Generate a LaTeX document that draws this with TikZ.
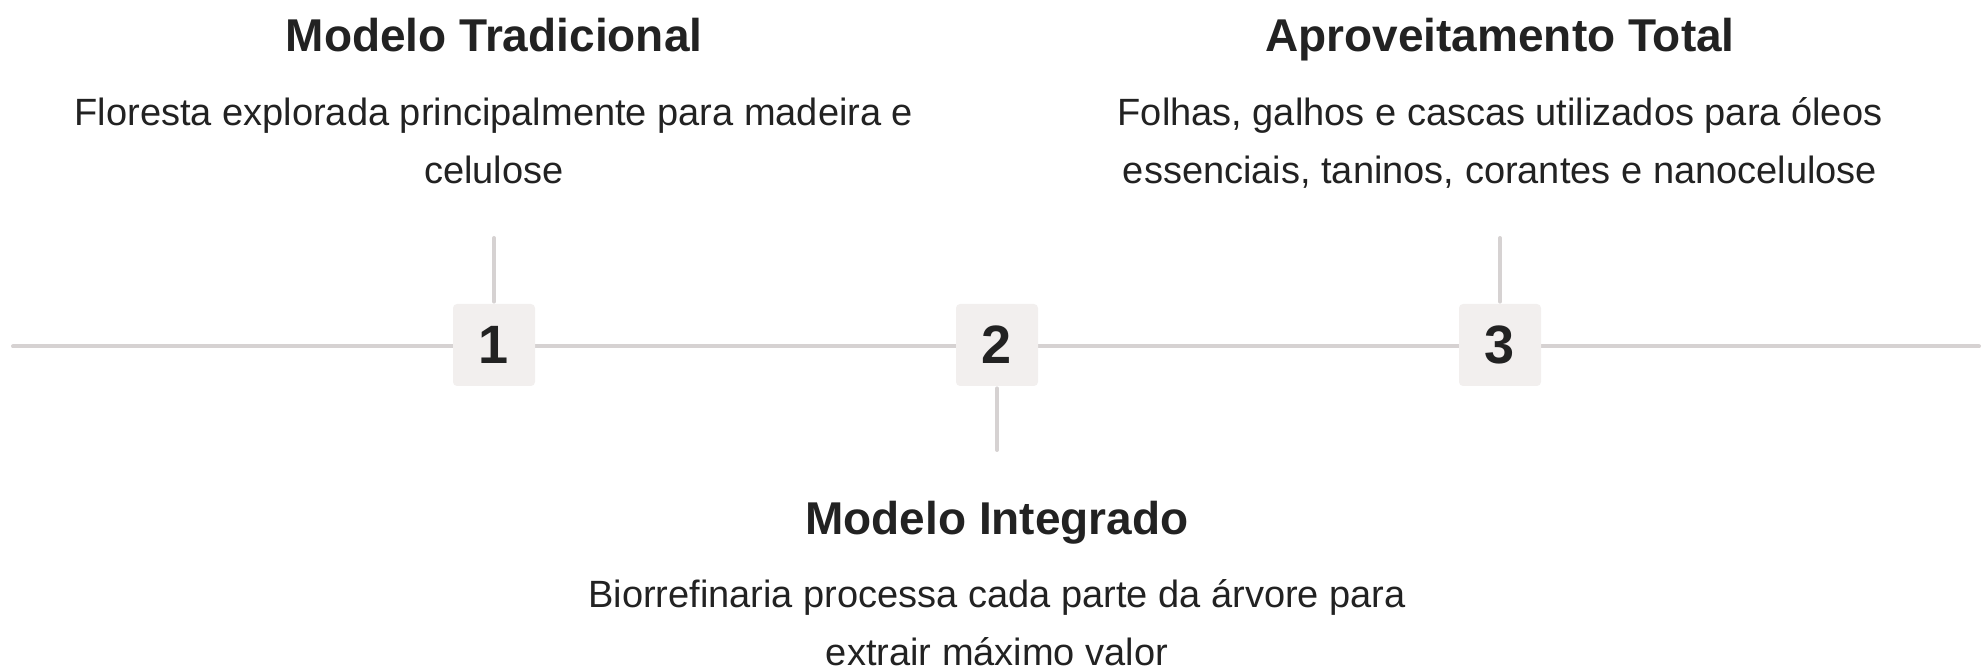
\documentclass[tikz,border=0pt]{standalone}
\usepackage{fontspec}
\setmainfont{Liberation Sans}
\definecolor{ink}{HTML}{222222}
\definecolor{linegray}{HTML}{D6D2D2}
\definecolor{boxfill}{HTML}{F2EFEE}
\begin{document}
\begin{tikzpicture}[x=0.5pt, y=-0.5pt,
    track/.style={draw=linegray, line width=2pt, line cap=round},
    stepnum/.style={fill=boxfill, rounded corners=2pt, minimum size=41pt, inner sep=0pt,
      text=ink, font=\fontsize{27}{32}\selectfont\bfseries},
    heading/.style={anchor=base, inner sep=0pt, text=ink,
      font=\fontsize{23}{28}\selectfont\bfseries},
    desc/.style={anchor=base, inner sep=0pt, align=center, text=ink,
      font=\fontsize{19}{29}\selectfont}]
  \useasboundingbox (0,0) rectangle (1983,668);
  \coordinate (s) at (13,346.5);
  \coordinate (e) at (1979,346.5);
  \draw[track] (s) -- (e);
  \draw
    (494,345) node[stepnum] (1){1}
    (997,345) node[stepnum] (2){2}
    (1500,345) node[stepnum] (3){3};
  \coordinate (t1) at (494,238);
  \coordinate (t2) at (997,450);
  \coordinate (t3) at (1500,238);
  \begin{scope}[track, shorten <=1pt]
    \draw (1) to (t1);
    \draw (2) to (t2);
    \draw (3) to (t3);
  \end{scope}
  % base of a two-line node is its last line
  \node[heading] (h1) at (494,51.7) {Modelo Tradicional};
  \node[desc] (d1) at (494,183.7) {Floresta explorada principalmente para madeira e\\celulose};
  \node[heading] (h2) at (997,534.3) {Modelo Integrado};
  \node[desc] (d2) at (997,665.3) {Biorrefinaria processa cada parte da árvore para\\extrair máximo valor};
  \node[heading] (h3) at (1500,51.7) {Aproveitamento Total};
  \node[desc] (d3) at (1500,183.7) {Folhas, galhos e cascas utilizados para óleos\\essenciais, taninos, corantes e nanocelulose};
\end{tikzpicture}
\end{document}
